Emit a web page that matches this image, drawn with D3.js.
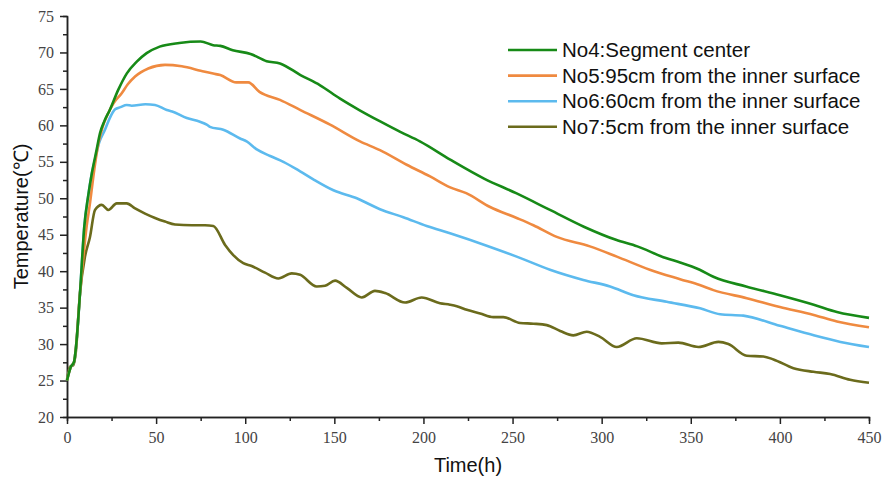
<!DOCTYPE html>
<html>
<head>
<meta charset="utf-8">
<script src="https://cdn.jsdelivr.net/npm/d3@7"></script>
<style>
  body { margin: 0; background: #fff; }
  #chart { width: 892px; height: 480px; }
  .tick text { font-family: "Liberation Serif", "DejaVu Serif", serif; font-size: 16px; fill: #444; }
  .axis path, .axis line { stroke: #222; stroke-width: 1.5px; }
</style>
</head>
<body>
<div id="chart"></div>
<script>
// series names and colours (legend order)
var seriesNames = ["No4:Segment center", "No5:95cm from the inner surface",
                   "No6:60cm from the inner surface", "No7:5cm from the inner surface"]
var seriesColors = ["#178a17", "#ef8a40", "#5cbaee", "#6b6b1c"]

// No4 - segment center
var no4Time = [0, 2, 4, 5, 7.3, 9.7, 12, 14, 16.5, 18.5, 21, 24, 28.8, 33.5, 39, 44.7, 52, 63, 75, 82, 86, 93, 103, 112, 119.5, 131, 142, 153, 164, 176, 187, 198, 215, 234, 252, 271, 290, 308, 320, 336, 344, 355, 363, 381, 400, 419, 432, 450]
var no4Temp = [25, 26.8, 27.6, 29.5, 37, 46.1, 50.5, 53.5, 56.5, 58.9, 60.6, 62.1, 64.9, 67.1, 68.7, 69.9, 70.8, 71.3, 71.5, 71.0, 70.9, 70.3, 69.8, 68.8, 68.5, 66.9, 65.5, 63.7, 62.1, 60.5, 59.1, 57.8, 55.3, 52.7, 50.7, 48.4, 46.1, 44.3, 43.4, 41.8, 41.2, 40.2, 39.2, 37.9, 36.7, 35.4, 34.4, 33.6]

// No5 - 95cm from the inner surface
var no5Time = [0, 2, 4, 5, 7.3, 9, 11, 13, 14.8, 17.6, 20, 23.2, 26, 30.7, 34, 38.2, 45.6, 55, 64.4, 75, 82, 86, 95, 101.7, 108, 119.5, 131, 147.6, 164.4, 175.6, 190.6, 203.7, 215, 224, 237.4, 252.3, 261.7, 274.8, 293.4, 308.5, 327, 344, 355, 362.7, 381.4, 400, 419, 432, 450]
var no5Temp = [25, 26.8, 27.6, 29.5, 37, 41.5, 46.1, 49.5, 53, 57.5, 59.8, 61.7, 63, 64.4, 65.6, 66.7, 67.8, 68.3, 68.1, 67.5, 67.1, 66.9, 65.9, 65.9, 64.6, 63.5, 62.1, 60.1, 57.8, 56.6, 54.6, 53.0, 51.5, 50.7, 48.8, 47.3, 46.3, 44.7, 43.4, 42.0, 40.2, 38.9, 38.1, 37.4, 36.3, 35.1, 34.0, 33.1, 32.3]

// No6 - 60cm from the inner surface
var no6Time = [0, 2, 4, 5, 7.3, 9.7, 12, 14, 15.7, 18, 21.3, 24, 27, 30, 33.5, 36.3, 44, 49.4, 56, 59, 67.2, 74.6, 78.4, 80.2, 87.7, 97.1, 100.8, 106.5, 114, 121.4, 130.8, 138.2, 149.5, 162.6, 175.6, 188.7, 201.8, 214.9, 235.5, 252.3, 271, 289.7, 304.7, 317.8, 336.5, 355.2, 366.5, 379.5, 400, 419, 434, 450]
var no6Temp = [25, 26.8, 27.6, 29.5, 37, 46.1, 50.5, 53.5, 55.3, 57.6, 59.4, 61, 62.2, 62.5, 62.8, 62.7, 62.9, 62.8, 62.1, 61.9, 61.0, 60.5, 60.1, 59.8, 59.4, 58.2, 57.8, 56.7, 55.8, 55.0, 53.7, 52.6, 51.1, 50.0, 48.5, 47.4, 46.2, 45.2, 43.5, 42.0, 40.2, 38.8, 37.9, 36.7, 35.8, 34.9, 34.1, 33.9, 32.5, 31.2, 30.3, 29.6]

// No7 - 5cm from the inner surface
var no7Time = [0, 1.7, 3.5, 4.9, 7.3, 10.1, 12.9, 15.7, 19.5, 23.2, 27.9, 33.5, 38.2, 43.8, 49.4, 55, 60.6, 70, 77.4, 82.1, 88.7, 93.3, 98.9, 103.6, 111.1, 118.6, 126.1, 130.8, 140.1, 144.8, 150.4, 157, 165.4, 172.8, 178.5, 189.7, 199, 209.3, 214.9, 218.7, 224.3, 231.8, 239.2, 244.8, 254.2, 261.7, 269.2, 276.7, 284.1, 291.6, 299.1, 308.5, 319.7, 333.7, 343, 354.3, 365.5, 371.1, 381.4, 390.7, 396.4, 407.6, 418.8, 428.2, 439.4, 450]
var no7Temp = [25.1, 26.9, 27.1, 28.8, 37, 42, 44.7, 48.4, 49.1, 48.4, 49.3, 49.3, 48.6, 47.9, 47.3, 46.8, 46.4, 46.3, 46.3, 46.2, 43.6, 42.2, 41.1, 40.7, 39.8, 39.0, 39.7, 39.5, 37.9, 38.0, 38.7, 37.7, 36.4, 37.3, 37.0, 35.7, 36.4, 35.6, 35.4, 35.2, 34.7, 34.2, 33.7, 33.7, 32.9, 32.8, 32.6, 31.8, 31.2, 31.7, 31.0, 29.6, 30.8, 30.1, 30.2, 29.6, 30.3, 30.0, 28.4, 28.3, 27.9, 26.7, 26.2, 25.9, 25.1, 24.7]

// tick labels
var xTicks = [0, 50, 100, 150, 200, 250, 300, 350, 400, 450]
var yTicks = [20, 25, 30, 35, 40, 45, 50, 55, 60, 65, 70, 75]

function renderLineChart(render_id) {
    var renderDiv = document.getElementById(render_id)
    renderDiv.innerHTML = ""

    var width = 892, height = 480
    var svg = d3.select("#" + render_id).append("svg")
        .attr("width", width)
        .attr("height", height)

    var left = 67, top = 16, plotW = 802, plotH = 401

    var x_scale = d3.scaleLinear().domain([0, 450]).range([0, plotW])
    var y_scale = d3.scaleLinear().domain([20, 75]).range([plotH, 0])

    var g = svg.append("g").attr("transform", "translate(" + left + "," + top + ")")

    // minor ticks (midpoints between the labelled ones)
    var xMinor = xTicks.slice(1).map(function (d, i) { return (d + xTicks[i]) / 2 })
    var yMinor = yTicks.slice(1).map(function (d, i) { return (d + yTicks[i]) / 2 })

    g.append("g").attr("class", "axis")
        .attr("transform", "translate(0," + plotH + ")")
        .call(d3.axisBottom(x_scale).tickValues(xMinor).tickSize(4).tickFormat(""))
    g.append("g").attr("class", "axis")
        .call(d3.axisLeft(y_scale).tickValues(yMinor).tickSize(4).tickFormat(""))

    g.append("g").attr("class", "axis")
        .attr("transform", "translate(0," + plotH + ")")
        .call(d3.axisBottom(x_scale).tickValues(xTicks).tickSize(7).tickPadding(8).tickSizeOuter(0))
    g.append("g").attr("class", "axis")
        .call(d3.axisLeft(y_scale).tickValues(yTicks).tickSize(7).tickPadding(6).tickSizeOuter(0))

    // series
    var allSeries = [
        { name: seriesNames[0], time: no4Time, temp: no4Temp },
        { name: seriesNames[1], time: no5Time, temp: no5Temp },
        { name: seriesNames[2], time: no6Time, temp: no6Temp },
        { name: seriesNames[3], time: no7Time, temp: no7Temp }
    ]

    var line = d3.line()
        .x(function (d) { return x_scale(d[0]) })
        .y(function (d) { return y_scale(d[1]) })
        .curve(d3.curveMonotoneX)

    // draw bottom series first so green stays on top like the original
    allSeries.slice().reverse().forEach(function (s) {
        var i = seriesNames.indexOf(s.name)
        g.append("path")
            .datum(d3.zip(s.time, s.temp))
            .attr("fill", "none")
            .attr("stroke", seriesColors[i])
            .attr("stroke-width", 2.6)
            .attr("stroke-linejoin", "round")
            .attr("d", line)
    })

    // axis titles
    svg.append("text")
        .attr("x", left + plotW / 2)
        .attr("y", 472)
        .attr("text-anchor", "middle")
        .style("font-family", "Liberation Sans, Arial, sans-serif")
        .style("font-size", "20px")
        .attr("fill", "#111")
        .text("Time(h)")

    svg.append("text")
        .attr("transform", "translate(28," + (top + plotH / 2) + ")rotate(-90)")
        .attr("text-anchor", "middle")
        .style("font-family", "Liberation Sans, Arial, sans-serif")
        .style("font-size", "20px")
        .attr("fill", "#111")
        .text("Temperature(℃)")

    // legend
    var legend = svg.append("g").attr("transform", "translate(508,50)")
    seriesNames.forEach(function (name, i) {
        var row = legend.append("g").attr("transform", "translate(0," + (i * 25.6) + ")")
        row.append("line")
            .attr("x1", 0).attr("x2", 49)
            .attr("stroke", seriesColors[i])
            .attr("stroke-width", 2.6)
        row.append("text")
            .attr("x", 54)
            .attr("y", 7)
            .style("font-family", "Liberation Sans, Arial, sans-serif")
            .style("font-size", "20.5px")
            .attr("fill", "#111")
            .text(name)
    })
}

renderLineChart("chart")
</script>
</body>
</html>
